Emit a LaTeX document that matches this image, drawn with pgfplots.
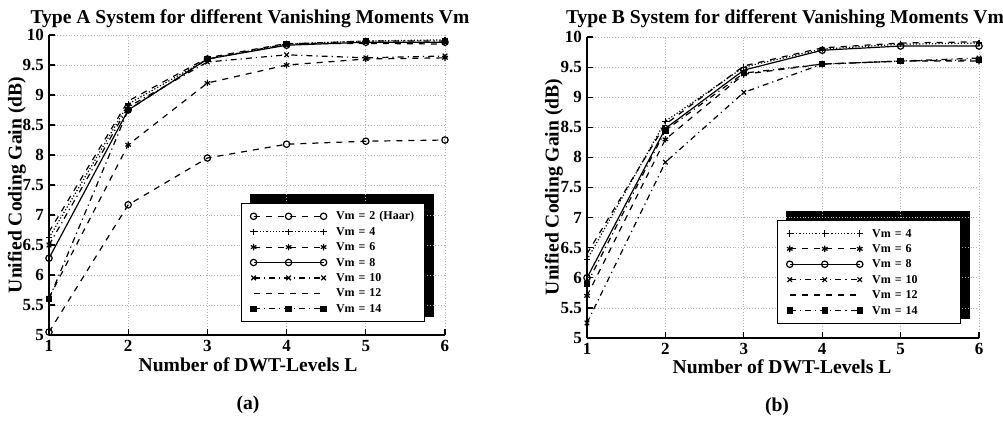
\documentclass[border=0pt]{standalone}
\usepackage{fontspec}
\setmainfont{Liberation Serif}
\usepackage{pgfplots}
\pgfplotsset{compat=1.18}
\usetikzlibrary{backgrounds}

% Coding gain vs. number of DWT levels, Type A system
\pgfplotstableread{
L  vm2   vm4   vm6   vm8   vm10  vm12  vm14
1  5.05  6.62  5.62  6.28  6.50  6.72  5.60
2  7.17  8.85  8.17  8.75  8.80  8.90  8.75
3  7.95  9.60  9.20  9.60  9.55  9.62  9.60
4  8.18  9.85  9.50  9.83  9.67  9.86  9.85
5  8.23  9.90  9.60  9.88  9.62  9.86  9.90
6  8.25  9.92  9.62  9.88  9.65  9.85  9.90
}\typeA

% Coding gain vs. number of DWT levels, Type B system
\pgfplotstableread{
L  vm4   vm6   vm8   vm10  vm12  vm14
1  6.30  5.70  6.00  5.25  6.40  5.90
2  8.60  8.30  8.48  7.92  8.55  8.45
3  9.50  9.38  9.45  9.08  9.52  9.40
4  9.80  9.55  9.78  9.55  9.82  9.55
5  9.88  9.60  9.85  9.60  9.90  9.60
6  9.90  9.60  9.85  9.65  9.92  9.62
}\typeB

\pgfplotsset{
  gainaxis/.style={
    scale only axis,
    width=198pt, height=150pt,
    xmin=1, xmax=6, ymin=5, ymax=10,
    xtick={1,2,3,4,5,6},
    ytick={5,5.5,6,6.5,7,7.5,8,8.5,9,9.5,10},
    axis x line*=bottom, axis y line*=left,
    x axis line style={-, line width=0.9pt},
    y axis line style={-, line width=0.9pt},
    major tick length=3pt,
    tick style={black, line width=0.6pt},
    tick align=inside,
    grid=major,
    grid style={densely dotted, gray!60, line width=0.4pt},
    /pgf/number format/assume math mode=true,
    ticklabel style={font=\fontsize{8.5}{9}\selectfont\bfseries},
    xticklabel style={yshift=1pt},
    yticklabel style={xshift=1pt},
    every axis plot/.append style={black, line width=0.6pt, mark size=1.6pt},
    legend cell align=left,
    legend image code/.code={%
      \draw[mark repeat=1,mark phase=1,##1]
        plot coordinates {(0pt,0pt) (17.5pt,0pt) (35pt,0pt)};},
    legend style={
      font=\fontsize{6}{6.5}\selectfont\bfseries,
      draw=black, line width=0.6pt, fill=white,
      inner xsep=4.5pt, inner ysep=3pt,
      row sep=0.9pt,
      nodes={inner sep=0.6pt, text height=4.6pt, text depth=1pt},
      /tikz/every odd column/.append style={column sep=4pt},
      /tikz/every even column/.append style={text width=39pt},
    },
  },
  s2/.style={dashed, mark=o, mark options={solid, fill=white}},
  s4/.style={densely dotted, mark=+, mark options={solid}},
  s6/.style={dashed, mark=asterisk, mark options={solid}},
  s8/.style={solid, mark=o, mark options={solid, fill=white}},
  s10/.style={dash dot, mark=x, mark options={solid}},
  s12/.style={dashed},
  s14/.style={dash dot, mark=square*, mark size=1.3pt, mark options={solid}},
}

\begin{document}
\begin{tikzpicture}
\path (0pt,0pt) rectangle (501.5pt,209.5pt);

% (a) Type A
\begin{axis}[gainaxis, at={(24.5pt,42pt)}, anchor=south west,
  legend style={name=legA, at={(axis description cs:0.949,0.043)}, anchor=south east}]
  \addplot[s2]  table[x=L, y=vm2]  {\typeA};
  \addlegendentry{\mbox{Vm = 2 (Haar)}}
  \addplot[s4]  table[x=L, y=vm4]  {\typeA};
  \addlegendentry{Vm = 4}
  \addplot[s6]  table[x=L, y=vm6]  {\typeA};
  \addlegendentry{Vm = 6}
  \addplot[s8]  table[x=L, y=vm8]  {\typeA};
  \addlegendentry{Vm = 8}
  \addplot[s10] table[x=L, y=vm10] {\typeA};
  \addlegendentry{Vm = 10}
  \addplot[s12] table[x=L, y=vm12] {\typeA};
  \addlegendentry{Vm = 12}
  \addplot[s14] table[x=L, y=vm14] {\typeA};
  \addlegendentry{Vm = 14}
\end{axis}

% (b) Type B
\begin{axis}[gainaxis, at={(293.5pt,40.5pt)}, anchor=south west,
  width=196pt, height=150.5pt,
  legend style={name=legB, at={(axis description cs:0.954,0.047)}, anchor=south east}]
  \addplot[s4]  table[x=L, y=vm4]  {\typeB};
  \addlegendentry{Vm = 4}
  \addplot[s6]  table[x=L, y=vm6]  {\typeB};
  \addlegendentry{Vm = 6}
  \addplot[s8]  table[x=L, y=vm8]  {\typeB};
  \addlegendentry{Vm = 8}
  \addplot[s10] table[x=L, y=vm10] {\typeB};
  \addlegendentry{Vm = 10}
  \addplot[s12] table[x=L, y=vm12] {\typeB};
  \addlegendentry{Vm = 12}
  \addplot[s14] table[x=L, y=vm14] {\typeB};
  \addlegendentry{Vm = 14}
\end{axis}

% solid drop shadows behind both legends
\begin{pgfonlayer}{background}
  \fill[black] ([shift={(4.5pt,2.5pt)}]legA.south west) rectangle ([shift={(4.5pt,4.5pt)}]legA.north east);
  \fill[black] ([shift={(4.5pt,2.5pt)}]legB.south west) rectangle ([shift={(4.5pt,4.5pt)}]legB.north east);
\end{pgfonlayer}

% titles, axis labels and sub-captions
\begin{scope}[every node/.style={font=\fontsize{9.8}{10}\selectfont\bfseries}]
  \node[overlay] at (125pt,200pt) {Type A System for different Vanishing Moments Vm};
  \node[overlay] at (392.5pt,200pt) {Type B System for different Vanishing Moments Vm};
  \node at (124pt,27pt) {Number of DWT-Levels L};
  \node at (391pt,26pt) {Number of DWT-Levels L};
  \node[rotate=90] at (8.5pt,117pt) {Unified Coding Gain (dB)};
  \node[rotate=90] at (277pt,116pt) {Unified Coding Gain (dB)};
  \node at (124pt,7pt) {(a)};
  \node at (388.5pt,6pt) {(b)};
\end{scope}
\end{tikzpicture}
\end{document}
